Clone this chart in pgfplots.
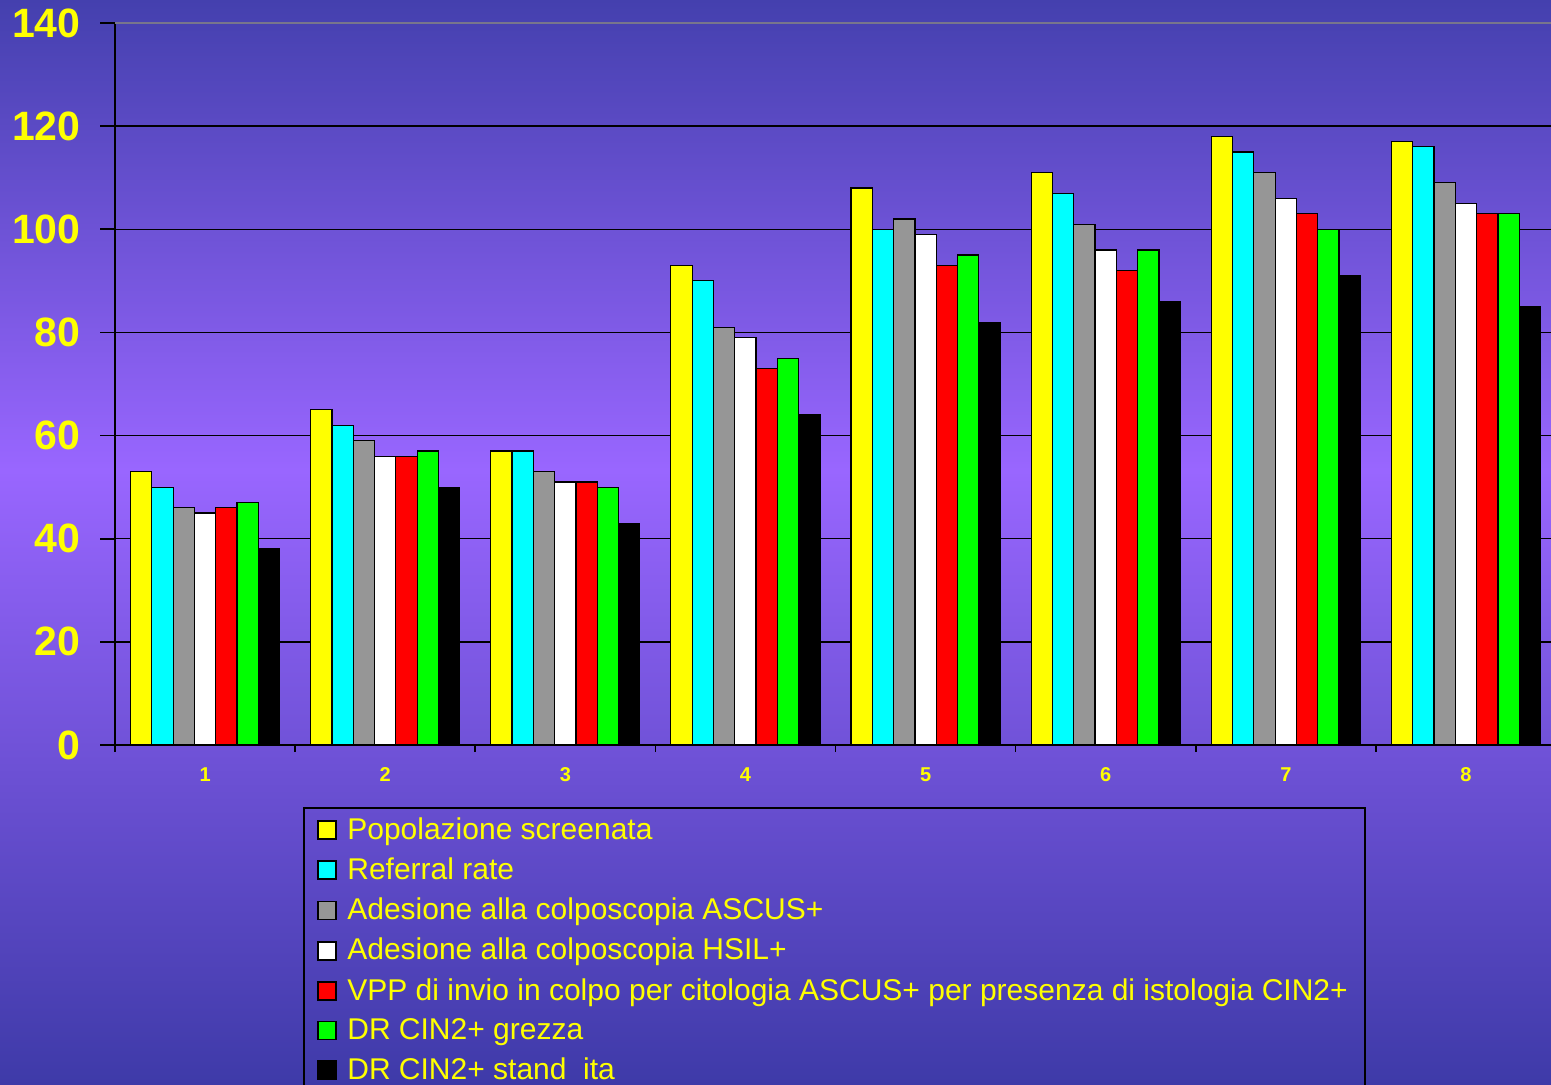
\documentclass[border=0pt]{standalone}
\usepackage{pgfplots}
\pgfplotsset{compat=1.18}
\usepackage{fontspec}
\setmainfont{Liberation Sans}
\definecolor{bgtop}{RGB}{68,64,174}
\definecolor{bgmid}{RGB}{153,102,255}
\definecolor{bgbot}{RGB}{62,58,168}
\definecolor{ylw}{RGB}{255,255,0}
\definecolor{cyn}{RGB}{0,255,255}
\definecolor{grn}{RGB}{0,255,0}
\definecolor{rd}{RGB}{255,0,0}
\definecolor{gry}{RGB}{150,150,150}
\definecolor{topline}{RGB}{120,118,140}
\begin{document}
\begin{tikzpicture}
\useasboundingbox (0,0) rectangle (775.5pt,542.5pt);
\clip (0,0) rectangle (775.5pt,542.5pt);
\shade[top color=bgtop,bottom color=bgmid] (0,307.5pt) rectangle (775.5pt,542.5pt);
\shade[top color=bgmid,bottom color=bgbot] (0,0) rectangle (775.5pt,307.5pt);
\begin{axis}[
  at={(57.5pt,170pt)}, anchor=south west,
  width=720.5pt, height=361pt, scale only axis,
  xmin=0.5, xmax=8.5, ymin=0, ymax=140,
  axis lines=left, axis line style={-, black, line width=0.8pt},
  ybar=0pt, bar width=10.65pt,
  ytick={0,20,...,120},
  extra y ticks={140},
  extra y tick style={grid style={topline, line width=0.8pt}},
  ymajorgrids, grid style={black, line width=0.75pt},
  tick align=outside,
  y tick style={black, line width=0.8pt},
  major tick length=7.5pt,
  xtick={1,...,8},
  x tick style={draw=none},
  minor xtick={0.5,1.5,...,8.5},
  minor tick length=3.5pt,
  minor x tick style={draw=black, line width=0.8pt},
  /pgf/number format/assume math mode=true,
  yticklabel style={font=\bfseries\fontsize{20.5}{24}\selectfont, text=ylw, inner sep=0pt, xshift=-9.5pt},
  xticklabel style={font=\bfseries\fontsize{10}{12}\selectfont, text=ylw, inner sep=0pt, yshift=-3.5pt},
  legend style={at={(0.1305,-0.0859)}, anchor=north west, draw=black, line width=0.8pt, fill=none,
     font=\fontsize{15}{18}\selectfont, text=ylw, row sep=3.7pt, inner xsep=6.5pt, inner ysep=3pt,
     cells={anchor=west}},
  legend image code/.code={\draw[#1,draw=black,line width=0.9pt] (0pt,-4.5pt) rectangle (9pt,4.5pt); \path (12.5pt,0pt);},
  every axis plot/.append style={draw=black, line width=0.6pt},
]
\addplot[fill=ylw] coordinates {(1,53) (2,65) (3,57) (4,93) (5,108) (6,111) (7,118) (8,117)};
\addplot[fill=cyn] coordinates {(1,50) (2,62) (3,57) (4,90) (5,100) (6,107) (7,115) (8,116)};
\addplot[fill=gry] coordinates {(1,46) (2,59) (3,53) (4,81) (5,102) (6,101) (7,111) (8,109)};
\addplot[fill=white] coordinates {(1,45) (2,56) (3,51) (4,79) (5,99) (6,96) (7,106) (8,105)};
\addplot[fill=rd] coordinates {(1,46) (2,56) (3,51) (4,73) (5,93) (6,92) (7,103) (8,103)};
\addplot[fill=grn] coordinates {(1,47) (2,57) (3,50) (4,75) (5,95) (6,96) (7,100) (8,103)};
\addplot[fill=black] coordinates {(1,38) (2,50) (3,43) (4,64) (5,82) (6,86) (7,91) (8,85)};
\legend{Popolazione screenata, Referral rate, Adesione alla colposcopia ASCUS+, Adesione alla colposcopia HSIL+, VPP di invio in colpo per citologia ASCUS+ per presenza di istologia CIN2+, DR CIN2+ grezza, DR CIN2+ stand\ \ ita}
\end{axis}
\end{tikzpicture}
\end{document}
